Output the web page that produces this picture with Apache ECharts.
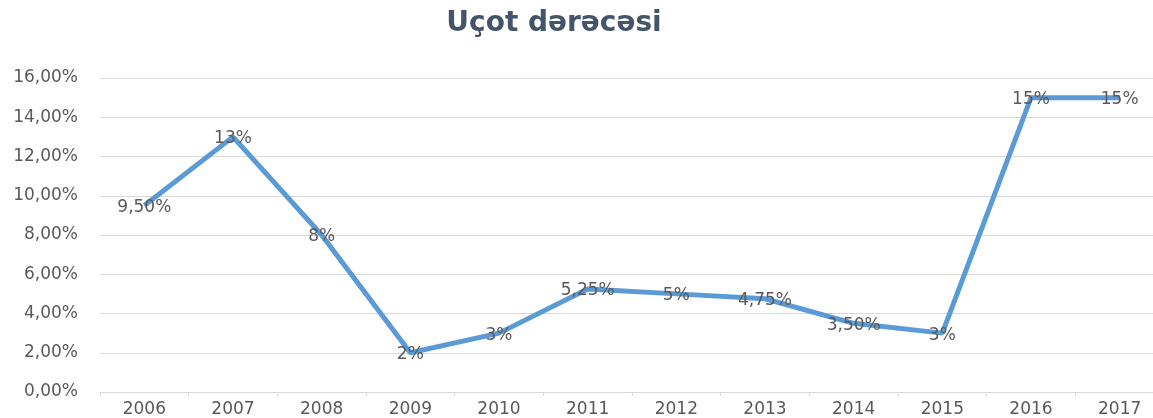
<!DOCTYPE html>
<html>
<head>
<meta charset="utf-8">
<script src="https://cdn.jsdelivr.net/npm/echarts@6/dist/echarts.min.js"></script>
<style>
  html, body { margin: 0; padding: 0; background: #fff; }
  #chart { width: 1153px; height: 418px; }
</style>
</head>
<body>
<div id="chart"></div>
<script>
var title = "Uçot dərəcəsi";
var years = ["2006", "2007", "2008", "2009", "2010", "2011", "2012", "2013", "2014", "2015", "2016", "2017"];
var rates = [9.5, 13, 8, 2, 3, 5.25, 5, 4.75, 3.5, 3, 15, 15];

function pct(v) {
  if (Number.isInteger(v)) return v + "%";
  return v.toFixed(2).replace(".", ",") + "%";
}

var chart = echarts.init(document.getElementById("chart"));
chart.setOption({
  animation: false,
  title: {
    text: title,
    left: 549,
    textAlign: "center",
    top: 5,
    textStyle: {
      fontFamily: "DejaVu Sans",
      fontSize: 28,
      fontWeight: "bold",
      color: "#44546a"
    }
  },
  grid: {
    left: 100,
    width: 1064,
    top: 78,
    bottom: 26,
    containLabel: false,
    outerBoundsMode: "none"
  },
  xAxis: {
    type: "category",
    data: years,
    boundaryGap: true,
    axisLine: { lineStyle: { color: "#d9d9d9", width: 1 } },
    axisTick: { show: true, length: 4, lineStyle: { color: "#d9d9d9" } },
    axisLabel: {
      margin: 9,
      fontFamily: "DejaVu Sans",
      fontSize: 17,
      color: "#595959"
    }
  },
  yAxis: {
    type: "value",
    min: 0,
    max: 16,
    interval: 2,
    axisLine: { show: false },
    axisTick: { show: false },
    splitLine: { lineStyle: { color: "#d9d9d9", width: 1 } },
    axisLabel: {
      margin: 22,
      fontFamily: "DejaVu Sans",
      fontSize: 17,
      color: "#595959",
      formatter: function (v) {
        return v.toFixed(2).replace(".", ",") + "%";
      }
    }
  },
  series: [
    {
      name: title,
      type: "line",
      data: rates,
      showSymbol: true,
      symbol: "circle",
      symbolSize: 2,
      itemStyle: { color: "rgba(91,155,213,0)", borderWidth: 0 },
      lineStyle: { color: "#5b9bd5", width: 5 },
      label: {
        show: true,
        position: "inside",
        offset: [0, 2],
        fontFamily: "DejaVu Sans",
        fontSize: 17,
        color: "#595959",
        formatter: function (p) {
          return pct(p.value);
        }
      }
    }
  ]
});
</script>
</body>
</html>
